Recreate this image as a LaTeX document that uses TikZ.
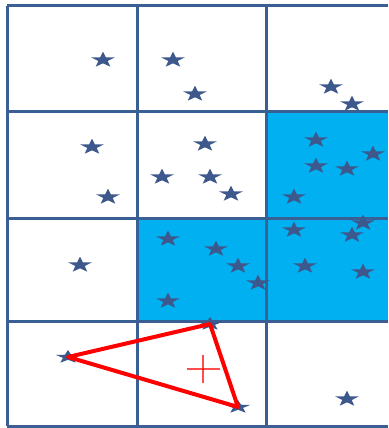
\documentclass[tikz,border=0pt]{standalone}
\usetikzlibrary{shapes.geometric}
\definecolor{gridblue}{RGB}{58,95,149}
\definecolor{cellcyan}{RGB}{0,176,240}
\definecolor{starblue}{RGB}{61,88,140}
\definecolor{hullred}{RGB}{255,0,0}
\tikzset{
  starnode/.style={star, star points=5, star point ratio=2.5, fill=starblue, draw=none,
    inner sep=0pt, minimum size=16.5pt, xscale=1.5, transform shape},
  vertexstar/.style={starnode, minimum size=14pt, xscale=1.25},
  gridline/.style={draw=gridblue, line width=3pt},
  hull/.style={draw=hullred, line width=4pt, line join=round},
  centremark/.style={draw=hullred, line width=1.4pt, opacity=0.7},
}
\begin{document}
\begin{tikzpicture}[x=1pt,y=-1pt]
\useasboundingbox (0,0) rectangle (388,428);
\fill[white] (0,0) rectangle (388,428);
% shaded cells
\fill[cellcyan] (266,111) rectangle (388,218);
\fill[cellcyan] (137,218) rectangle (388,321);
% grid
\foreach \gx in {7,137,266}
  \draw[gridline] (\gx,6) -- (\gx,426);
\foreach \gy in {6,111,218,321,426}
  \draw[gridline] (7,\gy) -- (388,\gy);
% points
\foreach \px/\py/\pn in {103/60/a1, 173/60/a2, 195/94/a3, 331/87/a4, 352/104/a5,
    92/147/b1, 108/197/b2, 162/177/b3, 205/144/b4, 210/177/b5, 231/194/b6,
    316/140/b7, 316/166/b8, 347/169/b9, 373/154/b10, 294/197/b11,
    80/265/c1, 168/239/c2, 168/301/c3, 216/249/c4, 238/266/c5, 258/283/c6,
    294/230/c7, 352/235/c8, 363/223/c9, 305/266/c10, 363/272/c11,
    347/399/d1}
  \node[starnode] (\pn) at (\px,\py) {};
\node[vertexstar] (v1) at (68,357) {};
\node[vertexstar] (v2) at (210,324) {};
\node[vertexstar] (v3) at (238,407) {};
% hull
\draw[hull] (v1.center) -- (v2.center) -- (v3.center) -- cycle;
\coordinate (m) at (203,369);
\draw[centremark] ([xshift=-16pt]m) -- ([xshift=17pt]m);
\draw[centremark] ([yshift=-14pt]m) -- ([yshift=14pt]m);
\end{tikzpicture}
\end{document}
